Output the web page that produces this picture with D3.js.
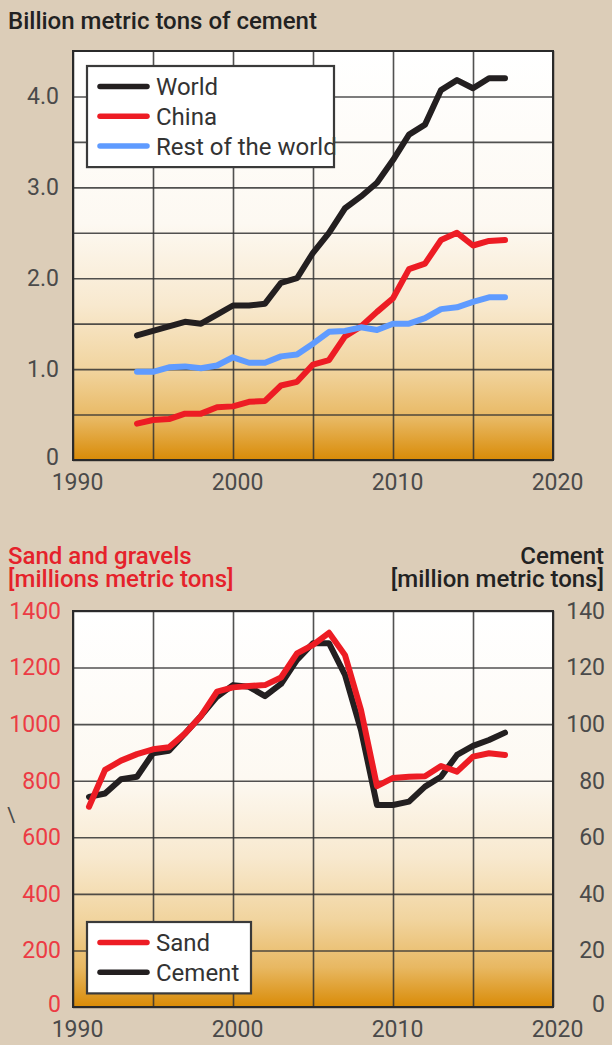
<!DOCTYPE html>
<html>
<head>
<meta charset="utf-8">
<script src="https://cdn.jsdelivr.net/npm/d3@7"></script>
<style>
  body { margin: 0; background: #dccdb8; }
  svg { display: block; font-family: Roboto, "Noto Sans", sans-serif; }
</style>
</head>
<body>
<svg id="chart" width="612" height="1045"></svg>
<script>
// data, top chart: cement production (billion t)
const cementYears = [1994, 1995, 1996, 1997, 1998, 1999, 2000, 2001, 2002, 2003, 2004, 2005,
  2006, 2007, 2008, 2009, 2010, 2011, 2012, 2013, 2014, 2015, 2016, 2017];
const worldCement = [1.37, 1.42, 1.47, 1.52, 1.50, 1.60, 1.70, 1.70, 1.72, 1.95, 2.00, 2.28,
  2.50, 2.77, 2.90, 3.05, 3.30, 3.58, 3.69, 4.07, 4.18, 4.09, 4.20, 4.20];
const chinaCement = [0.40, 0.44, 0.45, 0.51, 0.51, 0.58, 0.59, 0.64, 0.65, 0.82, 0.86, 1.05,
  1.10, 1.36, 1.47, 1.63, 1.78, 2.10, 2.16, 2.42, 2.50, 2.36, 2.41, 2.42];
const restCement = [0.97, 0.97, 1.02, 1.03, 1.01, 1.04, 1.13, 1.07, 1.07, 1.14, 1.16, 1.28,
  1.41, 1.42, 1.46, 1.43, 1.50, 1.50, 1.56, 1.66, 1.68, 1.74, 1.79, 1.79];
const topSeriesNames = ["World", "China", "Rest of the world"];

// data, bottom chart: sand & gravel vs cement (million t)
const prodYears = [1991, 1992, 1993, 1994, 1995, 1996, 1997, 1998, 1999, 2000, 2001, 2002, 2003,
  2004, 2005, 2006, 2007, 2008, 2009, 2010, 2011, 2012, 2013, 2014, 2015, 2016, 2017];
const sandGravel = [708, 838, 871, 894, 911, 918, 967, 1029, 1115, 1130, 1135, 1138, 1165,
  1250, 1280, 1323, 1244, 1050, 781, 810, 814, 816, 852, 832, 885, 897, 891];
const cementProd = [74.3, 75.5, 80.5, 81.4, 89.7, 90.6, 96.7, 102.9, 109.7, 113.8, 113.2, 109.9, 114.2,
  122.7, 128.6, 128.6, 117.4, 97.9, 71.4, 71.4, 72.6, 77.9, 81.4, 89.1, 92.3, 94.4, 97.0];
const bottomSeriesNames = ["Sand", "Cement"];

// ticks
const xTickYears = [1990, 2000, 2010, 2020];
const xGridYears = [1995, 2005, 2015];
const topYTicks = [0, 1, 2, 3, 4];
const topYGrid = [0.5, 1.5, 2.5, 3.5];
const sandTicks = [0, 200, 400, 600, 800, 1000, 1200, 1400];
const cementTicks = [0, 20, 40, 60, 80, 100, 120, 140];

const BLACK = "#231f20", RED = "#ed1c24", BLUE = "#5f9bff";
const AXIS_TXT = "#4a4a4a";

const svg = d3.select("#chart");

// gradient fill used by both plot areas
const defs = svg.append("defs");
const grad = defs.append("linearGradient")
  .attr("id", "plotbg").attr("x1", 0).attr("y1", 0).attr("x2", 0).attr("y2", 1);
[[0, "#ffffff"], [0.42, "#fdf9f2"], [0.62, "#f8e9cf"], [0.78, "#f1d49e"],
 [0.9, "#e8b862"], [1, "#d98b07"]].forEach(([o, c]) =>
  grad.append("stop").attr("offset", o).attr("stop-color", c));

const left = 73, right = 553;
const x = d3.scaleLinear().domain([1990, 2020]).range([left, right]);

function drawFrame(g, y, top, bottom, hGrid) {
  g.append("rect")
    .attr("x", left).attr("y", top)
    .attr("width", right - left).attr("height", bottom - top)
    .attr("fill", "url(#plotbg)");

  // vertical grid
  g.append("g")
    .attr("transform", `translate(0,${bottom})`)
    .call(d3.axisBottom(x).tickValues(xTickYears.concat(xGridYears))
      .tickSize(-(bottom - top)).tickFormat(""))
    .call((s) => s.select(".domain").remove())
    .selectAll("line").attr("stroke", "#333").attr("stroke-width", 1.6).attr("stroke-opacity", 0.85);

  // horizontal grid
  g.append("g")
    .attr("transform", `translate(${left},0)`)
    .call(d3.axisLeft(y).tickValues(hGrid).tickSize(-(right - left)).tickFormat(""))
    .call((s) => s.select(".domain").remove())
    .selectAll("line").attr("stroke", "#333").attr("stroke-width", 1.6).attr("stroke-opacity", 0.85);

  g.append("rect")
    .attr("x", left).attr("y", top)
    .attr("width", right - left).attr("height", bottom - top)
    .attr("fill", "none").attr("stroke", "#2a2a2a").attr("stroke-width", 2);

  // x labels
  g.append("g")
    .attr("transform", `translate(0,${bottom})`)
    .call(d3.axisBottom(x).tickValues(xTickYears).tickFormat(d3.format("d"))
      .tickSize(0).tickPadding(14))
    .call((s) => s.select(".domain").remove())
    .selectAll("text")
    .attr("dx", 4)
    .attr("font-family", "Roboto, sans-serif").attr("font-size", 23).attr("fill", AXIS_TXT);
}

function drawLine(g, years, values, y, color) {
  const line = d3.line().x((d, i) => x(years[i])).y((d) => y(d));
  g.append("path")
    .datum(values)
    .attr("d", line)
    .attr("fill", "none")
    .attr("stroke", color)
    .attr("stroke-width", 6)
    .attr("stroke-linejoin", "round")
    .attr("stroke-linecap", "round");
}

function drawLegend(g, lx, ly, w, names, colors) {
  const rowH = 29.7;
  const h = names.length * rowH + 12;
  g.append("rect").attr("x", lx).attr("y", ly).attr("width", w).attr("height", h)
    .attr("fill", "#fff");
  names.forEach((n, i) => {
    const cy = ly + 20.5 + i * rowH;
    g.append("line")
      .attr("x1", lx + 13).attr("x2", lx + 60).attr("y1", cy).attr("y2", cy)
      .attr("stroke", colors[i]).attr("stroke-width", 5.5).attr("stroke-linecap", "round");
    g.append("text")
      .attr("x", lx + 69).attr("y", cy).attr("dy", "0.36em")
      .attr("font-size", 24).attr("fill", "#333").text(n);
  });
  g.append("rect").attr("x", lx).attr("y", ly).attr("width", w).attr("height", h)
    .attr("fill", "none").attr("stroke", "#3a3a3a").attr("stroke-width", 2.2);
}

function title(tx, ty, anchor, color, str) {
  svg.append("text")
    .attr("x", tx).attr("y", ty).attr("text-anchor", anchor)
    .attr("font-size", 24).attr("font-weight", 500).attr("fill", color)
    .text(str);
}

// ---------- top chart ----------
const topG = svg.append("g");
const yTop = d3.scaleLinear().domain([0, 4.5]).range([460, 51]);

title(8, 29, "start", "#222", "Billion metric tons of cement");

drawFrame(topG, yTop, 51, 460, topYGrid.concat(topYTicks));

topG.append("g")
  .attr("transform", `translate(${left},0)`)
  .call(d3.axisLeft(yTop).tickValues(topYTicks)
    .tickFormat((d) => (d === 0 ? "0" : d3.format(".1f")(d))).tickSize(0).tickPadding(14))
  .call((s) => s.select(".domain").remove())
  .selectAll("text")
  .attr("dy", (d) => (d === 0 ? "0.2em" : "0.32em"))
  .attr("font-family", "Roboto, sans-serif").attr("font-size", 23).attr("fill", AXIS_TXT);

drawLine(topG, cementYears, worldCement, yTop, BLACK);
drawLine(topG, cementYears, chinaCement, yTop, RED);
drawLine(topG, cementYears, restCement, yTop, BLUE);

drawLegend(topG, 87, 66, 247, topSeriesNames, [BLACK, RED, BLUE]);

// ---------- bottom chart ----------
const botG = svg.append("g");
const ySand = d3.scaleLinear().domain([0, 1400]).range([1007, 611]);
const yCem = d3.scaleLinear().domain([0, 140]).range([1007, 611]);

title(8, 564, "start", "#e5222b", "Sand and gravels");
title(8, 587, "start", "#e5222b", "[millions metric tons]");
title(604, 564, "end", "#222", "Cement");
title(604, 587, "end", "#222", "[million metric tons]");

drawFrame(botG, ySand, 611, 1007, sandTicks);

botG.append("g")
  .attr("transform", `translate(${left},0)`)
  .call(d3.axisLeft(ySand).tickValues(sandTicks).tickFormat(d3.format("d"))
    .tickSize(0).tickPadding(12))
  .call((s) => s.select(".domain").remove())
  .selectAll("text")
  .attr("dy", (d) => (d === 0 ? "0.2em" : "0.32em"))
  .attr("font-family", "Roboto, sans-serif").attr("font-size", 23).attr("fill", "#ec3b44");

botG.append("g")
  .attr("transform", `translate(${right},0)`)
  .call(d3.axisRight(yCem).tickValues(cementTicks).tickFormat(d3.format("d"))
    .tickSize(0).tickPadding(0))
  .call((s) => s.select(".domain").remove())
  .selectAll("text")
  .attr("x", 52).attr("text-anchor", "end")
  .attr("dy", (d) => (d === 0 ? "0.2em" : "0.32em"))
  .attr("font-family", "Roboto, sans-serif").attr("font-size", 23).attr("fill", AXIS_TXT);

// stray mark in the original
svg.append("text").attr("x", 7).attr("y", 822)
  .attr("font-size", 20).attr("fill", AXIS_TXT).text("\\");

drawLine(botG, prodYears, cementProd, yCem, BLACK);
drawLine(botG, prodYears, sandGravel, ySand, RED);

drawLegend(botG, 87, 922, 164, bottomSeriesNames, [RED, BLACK]);
</script>
</body>
</html>
